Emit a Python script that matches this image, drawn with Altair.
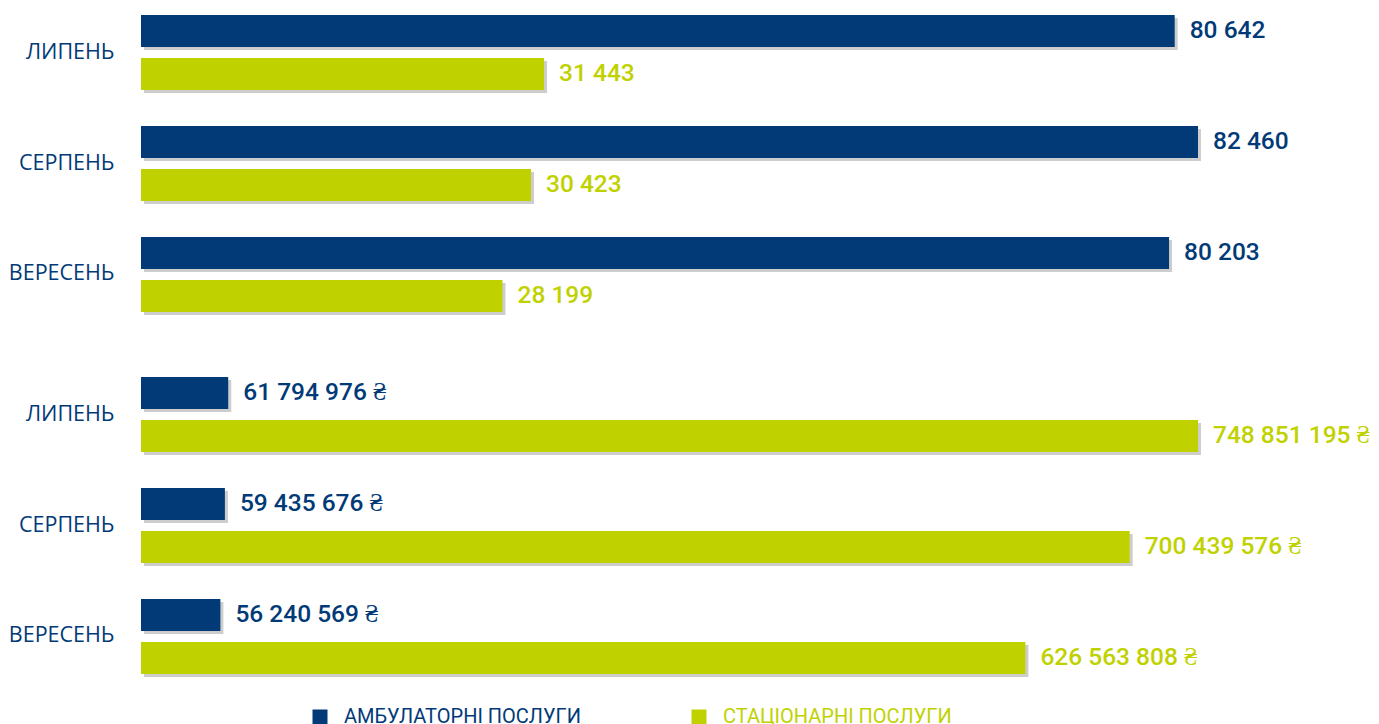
import altair as alt
import pandas as pd

months = ["ЛИПЕНЬ", "СЕРПЕНЬ", "ВЕРЕСЕНЬ"]
series = ["АМБУЛАТОРНІ ПОСЛУГИ", "СТАЦІОНАРНІ ПОСЛУГИ"]
count_amb = [80642, 82460, 80203]
count_stat = [31443, 30423, 28199]
sum_amb = [61794976, 59435676, 56240569]
sum_stat = [748851195, 700439576, 626563808]

NAVY = "#023A78"
LIME = "#BFD200"


def fmt(v, suffix=""):
    return f"{v:,}".replace(",", " ") + suffix


def frame(a, b, suffix=""):
    rows = []
    for i, m in enumerate(months):
        rows.append(dict(month=m, series=series[0], value=a[i], label=fmt(a[i], suffix)))
        rows.append(dict(month=m, series=series[1], value=b[i], label=fmt(b[i], suffix)))
    return pd.DataFrame(rows)


color_scale = alt.Scale(domain=series, range=[NAVY, LIME])
legend = alt.Legend(
    title=None, orient="none", legendX=169, legendY=692, direction="horizontal",
    columns=2, symbolType="square", symbolSize=225, symbolStrokeWidth=0,
    symbolOpacity=1, labelFontSize=20, labelFont="Roboto", labelOffset=14,
    columnPadding=108, labelLimit=400,
    labelColor=alt.expr(f"datum.value == '{series[0]}' ? '{NAVY}' : '{LIME}'"),
)


def panel(df, vmax):
    y = alt.Y("month:N", sort=months,
              scale=alt.Scale(paddingInner=0.3243, paddingOuter=0),
              axis=alt.Axis(title=None, ticks=False, domain=False, labelPadding=27,
                            labelFontSize=21.5, labelColor=NAVY, labelFont="Open Sans"))
    x = alt.X("value:Q", scale=alt.Scale(domain=[0, vmax], nice=False, zero=True), axis=None)
    base = alt.Chart(df).encode(
        y=y, x=x,
        yOffset=alt.YOffset("series:N", sort=series,
                            scale=alt.Scale(paddingInner=0.2558, paddingOuter=0)),
    )
    shadow = alt.Chart(df).mark_bar(color="#c4c4c4", xOffset=3, opacity=0.85).encode(
        y=y, x=x,
        yOffset=alt.YOffset("series:N", sort=series,
                            scale=alt.Scale(paddingInner=0.2558, paddingOuter=0, range=[3, 78])),
    )
    bars = base.mark_bar().encode(color=alt.Color("series:N", scale=color_scale, legend=legend))
    text = base.mark_text(align="left", dx=15, fontSize=24.5, fontWeight=500, font="Roboto").encode(
        text="label:N", color=alt.Color("series:N", scale=color_scale, legend=legend))
    main = alt.layer(bars, text)
    return alt.layer(shadow, main).resolve_scale(yOffset="independent").properties(width=1057, height=297)


top = panel(frame(count_amb, count_stat), max(count_amb + count_stat))
bottom = panel(frame(sum_amb, sum_stat, " ₴"), max(sum_amb + sum_stat))

chart = alt.vconcat(top, bottom, spacing=62).properties(
    padding={"left": 0, "top": 7, "right": 0, "bottom": 0}
).configure_view(stroke=None)

chart.save("out.html", embed_options={"renderer": "svg", "actions": False})
